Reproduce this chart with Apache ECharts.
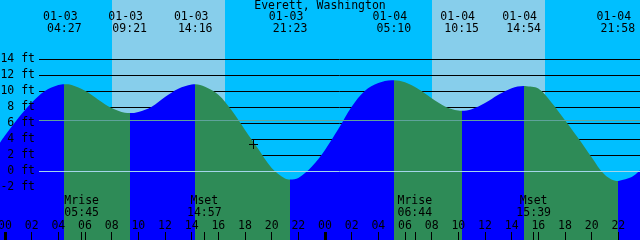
<!DOCTYPE html>
<html><head><meta charset="utf-8">
<script src="https://cdn.jsdelivr.net/npm/echarts@6/dist/echarts.min.js"></script>
<style>html,body{margin:0;padding:0;background:#00BFFF}#c{width:640px;height:240px}</style>
</head><body><div id="c"></div>
<script>
const chartTitle = 'Everett, Washington';
// hours since 01-03 00:00 and predicted height (ft)
const tideHours = [-0.375, 0, 1, 2, 3, 4, 4.45, 5, 6, 7, 8, 9, 9.35, 10, 11, 12, 13, 14, 14.267, 15, 16, 17, 18, 19, 20, 21, 21.383, 22, 23, 24, 25, 26, 27, 28, 29, 29.167, 30, 31, 32, 33, 34, 34.25, 35, 36, 37, 38, 38.9, 39, 40, 41, 42, 43, 44, 45, 45.967, 46, 47, 47.625];
const tideFeet  = [3.6, 4.5, 6.7, 8.6, 10.05, 10.8, 10.9, 10.8, 10.08, 8.98, 7.93, 7.34, 7.3, 7.45, 8.1, 9.3, 10.35, 10.87, 10.9, 10.6, 9.6, 7.65, 5.2, 2.8, 0.45, -0.88, -1.0, -0.8, 0.6, 2.7, 5.3, 8.1, 10.1, 11.05, 11.4, 11.4, 11.15, 10.3, 9.16, 8.14, 7.62, 7.6, 7.79, 8.56, 9.59, 10.42, 10.7, 10.69, 10.37, 8.6, 6.4, 4.15, 1.78, -0.45, -1.2, -1.2, -0.7, 0.15];
const extremeHours = [4.45, 9.35, 14.267, 21.383, 29.167, 34.25, 38.9, 45.967];
const extremeKind  = ['H', 'L', 'H', 'L', 'H', 'L', 'H', 'L'];
const extremeDates = ['01-03', '01-03', '01-03', '01-03', '01-04', '01-04', '01-04', '01-04'];
const extremeClock = ['04:27', '09:21', '14:16', '21:23', '05:10', '10:15', '14:54', '21:58'];
const dayStart = [8.02, 32.02];
const dayEnd   = [16.5, 40.5];
const moonNames = ['Mrise', 'Mset', 'Mrise', 'Mset'];
const moonClock = ['05:45', '14:57', '06:44', '15:39'];
const moonHours = [5.75, 14.95, 30.733, 39.65];
const hourTicks = [0, 2, 4, 6, 8, 10, 12, 14, 16, 18, 20, 22, 24, 26, 28, 30, 32, 34, 36, 38, 40, 42, 44, 46];
const midnightTicks = [0, 24];
const gridFeet = [-2, 0, 2, 4, 6, 8, 10, 12, 14];
const mslFeet = 6.375;
const datumFeet = 0;
const nowPoint = [18.62, 3.5];

const FONT = '"DejaVu Sans Mono", monospace';
const FS = 11.5;
const C = { night: '#00BFFF', day: '#87CEEB', rise: '#0000FF', fall: '#2E8B57', msl: '#5FA39B', datum: '#A4D6EA' };
const X_MIN = -0.375, X_MAX = 47.625, Y_MIN = -8.5625, Y_MAX = 21.4375;

const pieces = [];
extremeHours.forEach((t, i) => {
  const col = extremeKind[i] === 'H' ? C.rise : C.fall;
  pieces.push({ gte: i === 0 ? X_MIN - 1 : extremeHours[i - 1], lt: t, color: col });
});
pieces.push({ gte: extremeHours[extremeHours.length - 1], lte: X_MAX + 1, color: extremeKind[extremeKind.length - 1] === 'H' ? C.fall : C.rise });

const chart = echarts.init(document.getElementById('c'), null, { renderer: 'canvas' });
const hh = v => String(((Math.round(v) % 24) + 24) % 24).padStart(2, '0');
const crisp = y => Math.round(y - 0.5) + 0.5;

chart.setOption({
  animation: false,
  backgroundColor: C.night,
  title: { text: chartTitle, left: 'center', top: 0, padding: [0, 0, 0, 0], textStyle: { fontFamily: FONT, fontSize: FS, fontWeight: 'normal', color: '#000' } },
  grid: [
    { left: 0, right: 0, top: 0, bottom: 0, containLabel: false, outerBoundsMode: 'none' },
    { left: 39, right: 0, top: 0, bottom: 0, containLabel: false, outerBoundsMode: 'none' }
  ],
  xAxis: [
    { gridIndex: 0, type: 'value', position: 'bottom', min: X_MIN, max: X_MAX, z: 10,
      axisLine: { show: false, onZero: false }, splitLine: { show: false },
      axisTick: { show: true, inside: true, length: 8, customValues: hourTicks.concat(moonHours), lineStyle: { color: '#000', width: 1 } },
      axisLabel: { show: true, inside: true, margin: 8, customValues: hourTicks, formatter: hh, color: '#000', fontFamily: FONT, fontSize: FS } },
    { gridIndex: 0, type: 'value', position: 'bottom', min: X_MIN, max: X_MAX, z: 10,
      axisLine: { show: false, onZero: false }, splitLine: { show: false }, axisLabel: { show: false },
      axisTick: { show: true, inside: true, length: 8, customValues: midnightTicks, lineStyle: { color: '#000', width: 3 } } },
    { gridIndex: 1, type: 'value', min: 0, max: 1, show: false, axisLine: { onZero: false } }
  ],
  yAxis: [
    { gridIndex: 0, type: 'value', min: Y_MIN, max: Y_MAX, show: false, axisLine: { onZero: false } },
    { gridIndex: 1, type: 'value', position: 'left', min: Y_MIN, max: Y_MAX, z: 10,
      axisLine: { show: false, onZero: false }, axisTick: { show: false }, splitLine: { show: false },
      axisLabel: { show: true, margin: 4, customValues: gridFeet, formatter: v => v + ' ft', color: '#000', fontFamily: FONT, fontSize: FS } }
  ],
  visualMap: { type: 'piecewise', show: false, dimension: 0, seriesIndex: 2, pieces: pieces },
  series: [
    { type: 'custom', name: 'daylight', xAxisIndex: 0, yAxisIndex: 0, z: 1, silent: true,
      data: dayStart.map((s, i) => [s, dayEnd[i]]),
      renderItem: (params, api) => {
        const x1 = Math.round(api.coord([api.value(0), 0])[0]);
        const x2 = Math.round(api.coord([api.value(1), 0])[0]);
        const cs = params.coordSys;
        return { type: 'rect', shape: { x: x1, y: cs.y, width: x2 - x1, height: cs.height }, style: { fill: C.day } };
      } },
    { type: 'custom', name: 'gridlines', xAxisIndex: 2, yAxisIndex: 1, z: 2, silent: true,
      data: gridFeet.map(v => [0, v]),
      renderItem: (params, api) => {
        const y = crisp(api.coord([0, api.value(1)])[1]);
        const cs = params.coordSys;
        return { type: 'line', shape: { x1: cs.x, y1: y, x2: cs.x + cs.width, y2: y }, style: { stroke: '#000', lineWidth: 1 } };
      } },
    { type: 'line', name: 'tide', xAxisIndex: 0, yAxisIndex: 0, z: 3, silent: true,
      data: tideHours.map((t, i) => [t, tideFeet[i]]),
      smooth: 0.35, showSymbol: false, symbol: 'none', clip: false,
      lineStyle: { width: 0, opacity: 0 },
      areaStyle: { opacity: 1, origin: 'start' } },
    { type: 'custom', name: 'reflines', xAxisIndex: 2, yAxisIndex: 1, z: 4, silent: true,
      data: [[0, mslFeet, 0], [0, datumFeet, 1]],
      renderItem: (params, api) => {
        const y = crisp(api.coord([0, api.value(1)])[1]);
        const cs = params.coordSys;
        return { type: 'line', shape: { x1: cs.x, y1: y, x2: cs.x + cs.width, y2: y }, style: { stroke: api.value(2) === 0 ? C.msl : C.datum, lineWidth: 1 } };
      } },
    { type: 'custom', name: 'now', xAxisIndex: 0, yAxisIndex: 0, z: 5, silent: true,
      data: [nowPoint],
      renderItem: (params, api) => {
        const p = api.coord([api.value(0), api.value(1)]);
        const x = Math.round(p[0]) + 0.5, y = Math.round(p[1]) + 0.5;
        return { type: 'group', children: [
          { type: 'line', shape: { x1: x - 4.5, y1: y, x2: x + 4.5, y2: y }, style: { stroke: '#000', lineWidth: 1 } },
          { type: 'line', shape: { x1: x, y1: y - 4.5, x2: x, y2: y + 4.5 }, style: { stroke: '#000', lineWidth: 1 } }
        ] };
      } },
    { type: 'custom', name: 'extremes', xAxisIndex: 0, yAxisIndex: 0, z: 6, silent: true,
      data: extremeHours.map((t, i) => [t, 0, i]),
      renderItem: (params, api) => {
        const x = api.coord([api.value(0), 0])[0];
        const i = api.value(2);
        return { type: 'group', children: [
          { type: 'text', x: x - 4, y: 17, style: { text: extremeDates[i], fill: '#000', font: FS + 'px ' + FONT, align: 'center', verticalAlign: 'middle' } },
          { type: 'text', x: x, y: 29, style: { text: extremeClock[i], fill: '#000', font: FS + 'px ' + FONT, align: 'center', verticalAlign: 'middle' } }
        ] };
      } },
    { type: 'custom', name: 'moon', xAxisIndex: 0, yAxisIndex: 0, z: 6, silent: true,
      data: moonHours.map((t, i) => [t, 0, i]),
      renderItem: (params, api) => {
        const x = api.coord([api.value(0), 0])[0];
        const i = api.value(2);
        return { type: 'group', children: [
          { type: 'text', x: x, y: 201.5, style: { text: moonNames[i], fill: '#000', font: FS + 'px ' + FONT, align: 'center', verticalAlign: 'middle' } },
          { type: 'text', x: x, y: 213.5, style: { text: moonClock[i], fill: '#000', font: FS + 'px ' + FONT, align: 'center', verticalAlign: 'middle' } }
        ] };
      } }
  ]
});
</script></body></html>
